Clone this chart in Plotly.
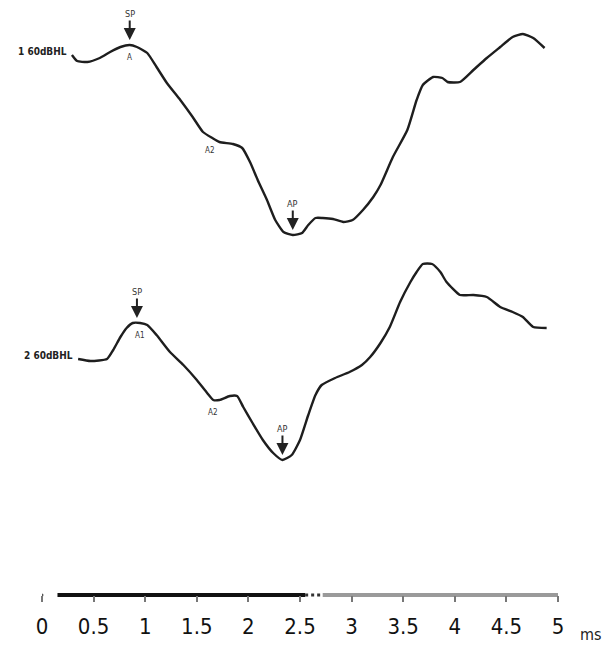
import plotly.graph_objects as go

# ---- data (time in ms, amplitude in arbitrary µV units) ----
top_t = [0.29, 0.34, 0.44, 0.56, 0.66, 0.76, 0.85, 0.92, 1.02, 1.11, 1.21, 1.34, 1.46, 1.56,
         1.65, 1.72, 1.85, 1.94, 2.02, 2.09, 2.18, 2.26, 2.34, 2.43, 2.52, 2.58, 2.65, 2.72,
         2.82, 2.92, 3.01, 3.11, 3.21, 3.28, 3.40, 3.54, 3.63, 3.69, 3.79, 3.88, 3.93, 4.05,
         4.18, 4.31, 4.44, 4.56, 4.66, 4.76, 4.87]
top_amp = [0.05, -0.01, -0.02, 0.02, 0.08, 0.13, 0.15, 0.13, 0.07, -0.07, -0.23, -0.40, -0.57,
           -0.72, -0.78, -0.82, -0.84, -0.88, -1.03, -1.20, -1.40, -1.60, -1.72, -1.75, -1.73,
           -1.65, -1.58, -1.58, -1.59, -1.62, -1.60, -1.50, -1.37, -1.25, -0.97, -0.70, -0.40,
           -0.25, -0.17, -0.18, -0.22, -0.22, -0.10, 0.02, 0.13, 0.23, 0.26, 0.22, 0.12]

bot_t = [0.35, 0.47, 0.63, 0.69, 0.76, 0.82, 0.88, 0.95, 1.02, 1.11, 1.24, 1.37, 1.50, 1.60,
         1.66, 1.72, 1.82, 1.89, 1.95, 2.04, 2.14, 2.24, 2.33, 2.42, 2.50, 2.58, 2.65, 2.71,
         2.84, 2.98, 3.10, 3.18, 3.28, 3.37, 3.47, 3.57, 3.63, 3.69, 3.78, 3.86, 3.92, 4.05,
         4.18, 4.31, 4.44, 4.56, 4.66, 4.76, 4.89]
bot_amp = [0.01, -0.01, 0.01, 0.10, 0.23, 0.32, 0.37, 0.37, 0.35, 0.25, 0.08, -0.05, -0.20,
           -0.33, -0.40, -0.40, -0.36, -0.36, -0.47, -0.63, -0.80, -0.93, -1.00, -0.95, -0.80,
           -0.55, -0.35, -0.25, -0.18, -0.12, -0.05, 0.03, 0.17, 0.33, 0.58, 0.78, 0.88, 0.96,
           0.96, 0.88, 0.78, 0.65, 0.65, 0.63, 0.53, 0.48, 0.43, 0.33, 0.32]

trace_names = ["1 60dBHL", "2 60dBHL"]
tick_vals = [0, 0.5, 1, 1.5, 2, 2.5, 3, 3.5, 4, 4.5, 5]
tick_text = ["0", "0.5", "1", "1.5", "2", "2.5", "3", "3.5", "4", "4.5", "5"]
scale_dark = [0.15, 2.55]
scale_light = [2.72, 5.0]

# markers: (time, label above arrow)
top_marks = [(0.85, "SP"), (2.43, "AP")]
bot_marks = [(0.92, "SP"), (2.33, "AP")]
top_small = [(0.85, "A"), (1.63, "A2")]
bot_small = [(0.95, "A1"), (1.66, "A2")]

# ---- layout constants (page body has an 8px margin) ----
M = 8
W, H = 615 - M, 660 - M
PX_PER_MS = 103.2
X0_PX = 42 - M
TOP_OFF = -0.60
BOT_OFF = -3.60
AXIS_Y = 595 - M
FONT = "DejaVu Sans Condensed, DejaVu Sans"

fig = go.Figure()
for t, a, off in [(top_t, top_amp, TOP_OFF), (bot_t, bot_amp, BOT_OFF)]:
    fig.add_trace(go.Scatter(x=t, y=[v + off for v in a], mode="lines",
                             line=dict(color="#1e1e1e", width=2.4, shape="spline", smoothing=0.5),
                             hoverinfo="skip", showlegend=False))

# scale bar
fig.add_trace(go.Scatter(x=scale_dark, y=[0, 0], xaxis="x2", yaxis="y2", mode="lines",
                         line=dict(color="#111111", width=4), showlegend=False, hoverinfo="skip"))
fig.add_trace(go.Scatter(x=[2.55, 2.72], y=[0, 0], xaxis="x2", yaxis="y2", mode="lines",
                         line=dict(color="#333333", width=3, dash="dot"), showlegend=False, hoverinfo="skip"))
fig.add_trace(go.Scatter(x=scale_light, y=[0, 0], xaxis="x2", yaxis="y2", mode="lines",
                         line=dict(color="#9a9a9a", width=4), showlegend=False, hoverinfo="skip"))
fig.add_trace(go.Scatter(x=[0], y=[0], xaxis="x2", yaxis="y2", mode="markers",
                         marker=dict(color="#555", size=3), showlegend=False, hoverinfo="skip"))

ann = []
def amp_at(ts, amps, t):
    i = min(range(len(ts)), key=lambda k: abs(ts[k] - t))
    return amps[i]

for marks, ts, amps, off in [(top_marks, top_t, top_amp, TOP_OFF), (bot_marks, bot_t, bot_amp, BOT_OFF)]:
    for t, lab in marks:
        y = amp_at(ts, amps, t) + off
        ann.append(dict(x=t, y=y + 0.03, text=lab, showarrow=True, arrowhead=2, arrowsize=1.2,
                        arrowwidth=2, arrowcolor="#222", ax=0, ay=-28, standoff=2,
                        font=dict(size=9, color="#333", family=FONT)))

for smalls, ts, amps, off in [(top_small, top_t, top_amp, TOP_OFF), (bot_small, bot_t, bot_amp, BOT_OFF)]:
    for t, lab in smalls:
        y = amp_at(ts, amps, t) + off
        ann.append(dict(x=t, y=y - 0.12, text=lab, showarrow=False,
                        font=dict(size=8, color="#333", family=FONT)))

for name, t0, a0, off in [(trace_names[0], top_t[0], top_amp[0], TOP_OFF),
                          (trace_names[1], bot_t[0], bot_amp[0], BOT_OFF)]:
    ann.append(dict(x=t0 - 0.03, y=a0 + off + 0.04, text="<b>" + name + "</b>", showarrow=False,
                    xanchor="right", font=dict(size=10, color="#222", family=FONT)))

ann.append(dict(xref="paper", yref="paper", x=(578 - M) / W, y=(H - (634 - M)) / H, text="ms",
                showarrow=False, xanchor="left", yanchor="middle",
                font=dict(size=16, color="#222", family=FONT)))

fig.update_layout(
    width=W, height=H, margin=dict(l=0, r=0, t=0, b=0, autoexpand=False),
    paper_bgcolor="white", plot_bgcolor="rgba(0,0,0,0)",
    xaxis=dict(range=[-X0_PX / PX_PER_MS, (W - X0_PX) / PX_PER_MS], visible=False, domain=[0, 1]),
    yaxis=dict(range=[-(H + M) / 100, -M / 100], visible=False, domain=[0, 1]),
    xaxis2=dict(domain=[(42 - M) / W, (558 - M) / W], range=[0, 5], anchor="free",
                position=(H - AXIS_Y) / H, tickvals=tick_vals, ticktext=tick_text,
                ticks="outside", ticklen=6, tickwidth=1.5, tickcolor="#777",
                ticklabelstandoff=6,
                showline=False, showgrid=False, zeroline=False, automargin=False,
                tickfont=dict(size=22, color="#111", family=FONT)),
    yaxis2=dict(domain=[(H - (AXIS_Y + 30)) / H, (H - (AXIS_Y - 30)) / H], range=[-1, 1],
                visible=False),
    annotations=ann,
    showlegend=False,
)

fig.write_html("out.html")
